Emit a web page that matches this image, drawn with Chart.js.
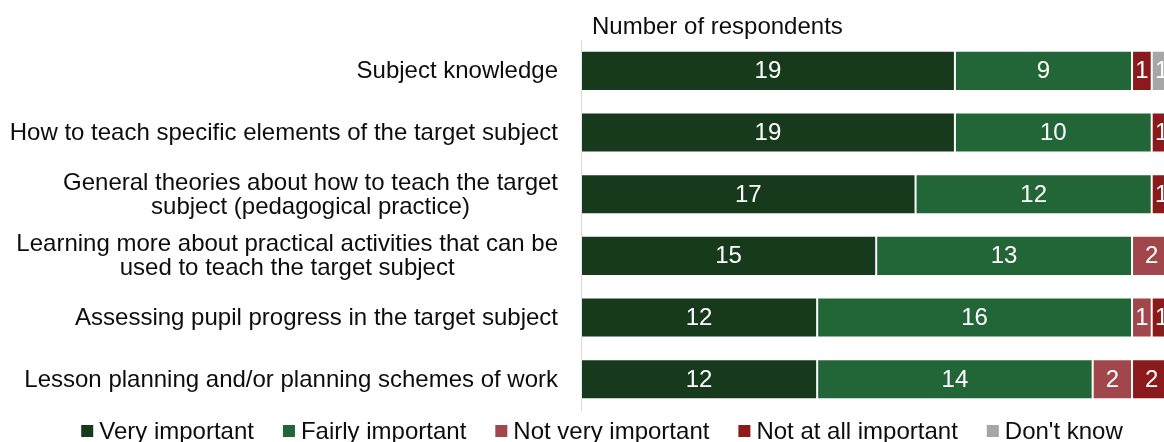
<!DOCTYPE html>
<html>
<head>
<meta charset="utf-8">
<script src="https://cdn.jsdelivr.net/npm/chart.js@4/dist/chart.umd.min.js"></script>
<style>
    html, body { margin: 0; padding: 0; background: #fff; overflow: hidden; }
    #wrap { position: relative; width: 1180px; height: 442px; }
</style>
</head>
<body>
<div id="wrap"><canvas id="chart"></canvas></div>
<script>
const categories = [
    ['Subject knowledge'],
    ['How to teach specific elements of the target subject'],
    ['General theories about how to teach the target', 'subject (pedagogical practice)'],
    ['Learning more about practical activities that can be', 'used to teach the target subject'],
    ['Assessing pupil progress in the target subject'],
    ['Lesson planning and/or planning schemes of work'],
];

const veryImportant = [19, 19, 17, 15, 12, 12];
const fairlyImportant = [9, 10, 12, 13, 16, 14];
const notVeryImportant = [0, 0, 0, 2, 1, 2];
const notAtAllImportant = [1, 1, 1, 0, 1, 2];
const dontKnow = [1, 0, 0, 0, 0, 0];

const seriesNames = ['Very important', 'Fairly important', 'Not very important', 'Not at all important', "Don't know"];
const seriesColors = ['#173a1d', '#226537', '#a1474b', '#8a1a1b', '#a6a6a6'];

const FONT = '"Liberation Sans", Arial, sans-serif';
const TEXT_COLOR = '#0d0d0d';

const overlayPlugin = {
    id: 'overlay',
    afterDatasetsDraw(chart) {
        const ctx = chart.ctx;
        ctx.save();
        ctx.font = `24px ${FONT}`;
        ctx.fillStyle = '#ffffff';
        ctx.textAlign = 'center';
        ctx.textBaseline = 'middle';
        chart.data.datasets.forEach((ds, di) => {
            chart.getDatasetMeta(di).data.forEach((bar, i) => {
                const v = ds.data[i];
                if (!v) {
                    return;
                }
                ctx.fillText(String(v), (bar.x + bar.base) / 2, bar.y + 1);
            });
        });
        ctx.restore();
    },
    afterDraw(chart) {
        const ctx = chart.ctx;
        const yScale = chart.scales.y;
        ctx.save();
        ctx.font = `24px ${FONT}`;
        ctx.fillStyle = TEXT_COLOR;
        ctx.textBaseline = 'middle';

        // category labels: block right-aligned, lines centred within it
        ctx.textAlign = 'center';
        const rightEdge = chart.chartArea.left - 23;
        const lineHeight = 24;
        categories.forEach((lines, i) => {
            const y = yScale.getPixelForValue(i);
            const maxW = Math.max(...lines.map(l => ctx.measureText(l).width));
            const cx = rightEdge - maxW / 2;
            lines.forEach((line, j) => {
                ctx.fillText(line, cx, y + 1 + (j - (lines.length - 1) / 2) * lineHeight);
            });
        });

        // axis title
        ctx.textAlign = 'left';
        ctx.fillText('Number of respondents', chart.chartArea.left + 11, 27);

        // legend
        const box = 12, gapText = 6, gapItem = 29;
        const widths = seriesNames.map(n => box + gapText + ctx.measureText(n).width);
        const total = widths.reduce((a, b) => a + b, 0) + gapItem * (seriesNames.length - 1);
        let x = 602 - total / 2;
        const ly = 431;
        seriesNames.forEach((name, i) => {
            ctx.fillStyle = seriesColors[i];
            ctx.fillRect(x, ly - box / 2, box, box);
            ctx.fillStyle = TEXT_COLOR;
            ctx.fillText(name, x + box + gapText, ly + 1);
            x += widths[i] + gapItem;
        });
        ctx.restore();
    },
};

const seriesData = [veryImportant, fairlyImportant, notVeryImportant, notAtAllImportant, dontKnow];

new Chart(document.getElementById('chart'), {
    type: 'bar',
    data: {
        labels: categories.map(c => c.join(' ')),
        datasets: seriesNames.map((label, i) => ({
            label,
            data: seriesData[i],
            backgroundColor: seriesColors[i],
            borderColor: 'rgba(255,255,255,0.35)',
            borderWidth: 1,
            borderSkipped: false,
            categoryPercentage: 1,
            barPercentage: 0.65,
        })),
    },
    options: {
        indexAxis: 'y',
        responsive: true,
        maintainAspectRatio: false,
        animation: false,
        layout: { padding: { top: 40, bottom: 32, left: 0, right: 8.6 } },
        plugins: {
            legend: { display: false },
            tooltip: { enabled: false },
        },
        scales: {
            x: {
                stacked: true,
                min: 0,
                max: 30,
                display: false,
            },
            y: {
                stacked: true,
                grid: { display: false },
                border: { display: true, color: '#d9d9d9', width: 1 },
                ticks: { display: false },
                afterFit(scale) {
                    scale.width = 581;
                },
            },
        },
    },
    plugins: [overlayPlugin],
});
</script>
</body>
</html>
